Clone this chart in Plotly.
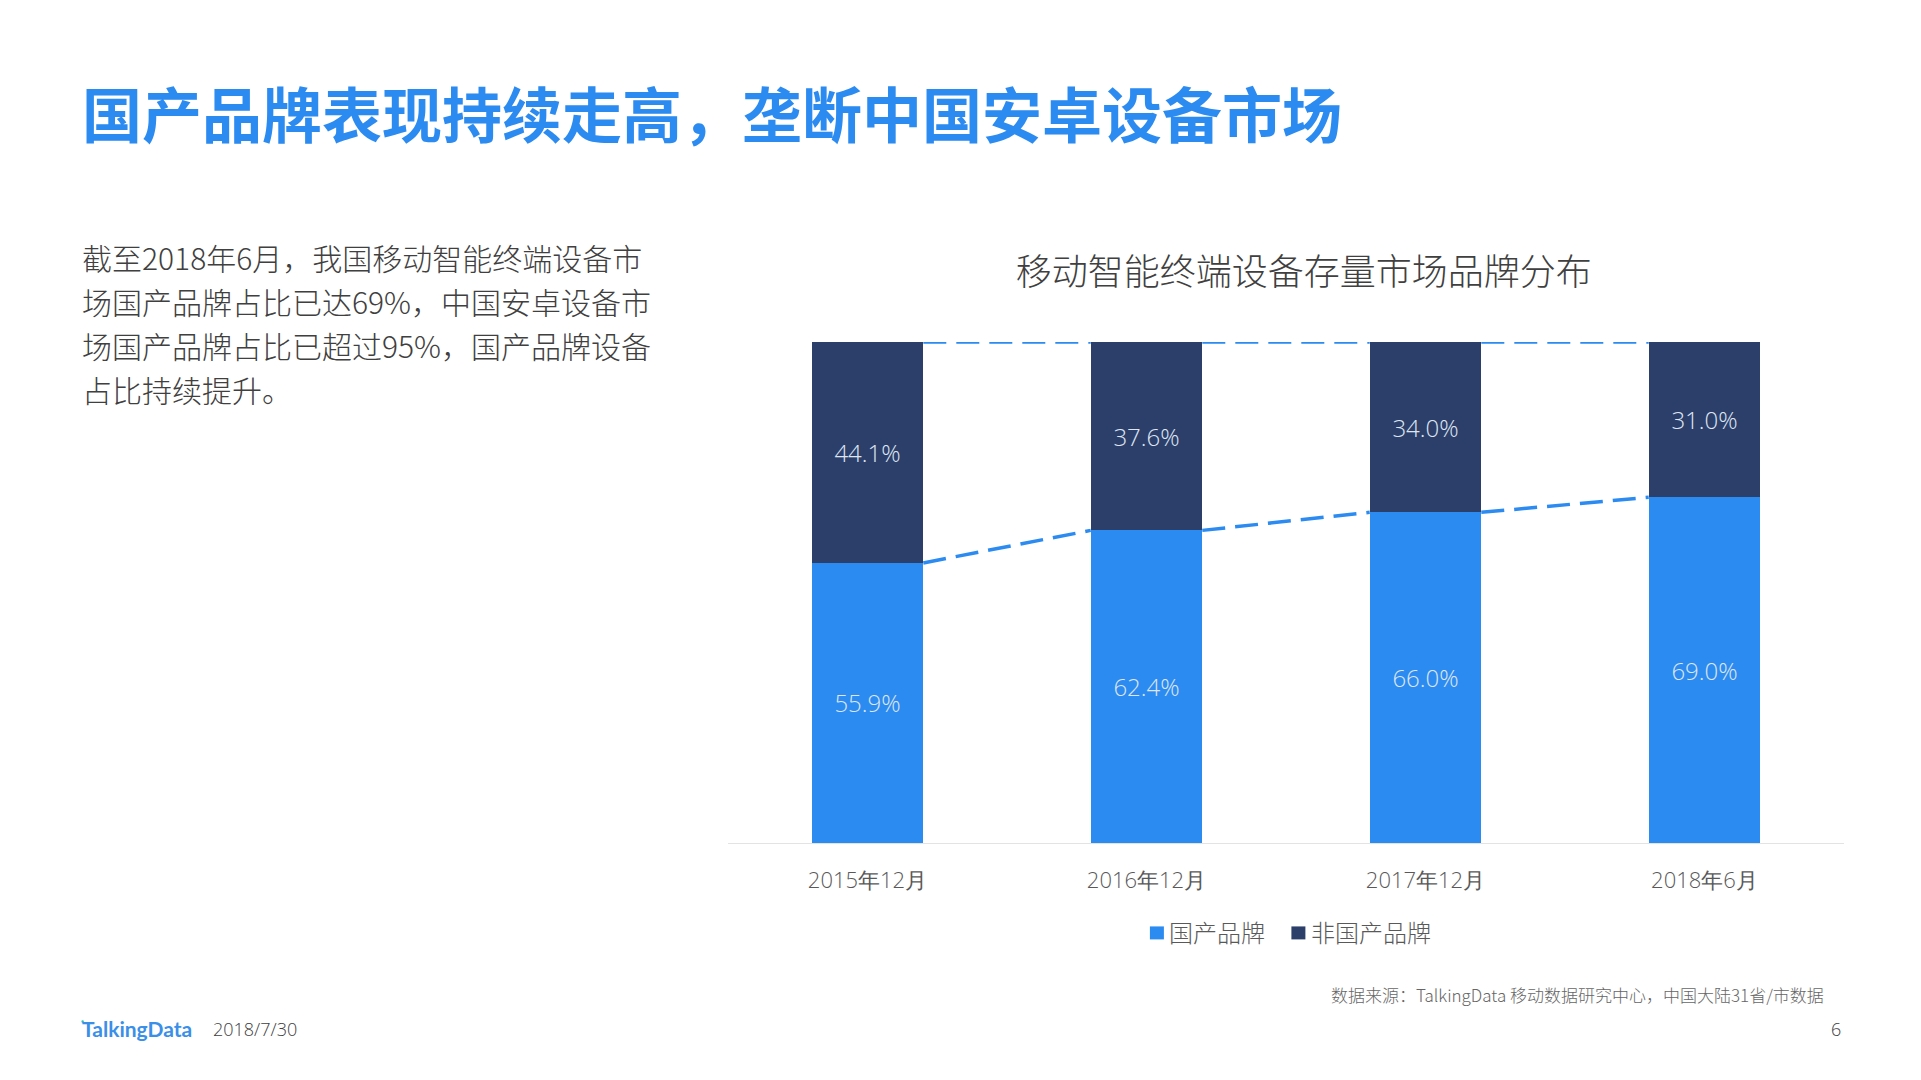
import plotly.graph_objects as go

# values
periods = ["2015年12月", "2016年12月", "2017年12月", "2018年6月"]
domestic = [55.9, 62.4, 66.0, 69.0]
foreign = [44.1, 37.6, 34.0, 31.0]
series_names = ["国产品牌", "非国产品牌"]

main_title = "国产品牌表现持续走高，垄断中国安卓设备市场"
chart_title = "移动智能终端设备存量市场品牌分布"
body_lines = [
    "截至2018年6月，我国移动智能终端设备市",
    "场国产品牌占比已达69%，中国安卓设备市",
    "场国产品牌占比已超过95%，国产品牌设备",
    "占比持续提升。",
]
source_text = "数据来源：TalkingData 移动数据研究中心，中国大陆31省/市数据"
logo_text = "TalkingData"
date_text = "2018/7/30"
page_text = "6"

W, H = 1921, 1080
LEFT, RIGHT, TOP, BOTTOM = 727.6, 1843.6, 342, 843.5
BAR_W = 0.4
BLUE = "#2c8bf0"
NAVY = "#2c3f6b"
CJK = "Noto Sans CJK SC Light, Noto Sans CJK SC"
CJK_BOLD = "Noto Sans CJK SC"
LATIN = "Open Sans"


def px(x):
    return (x - LEFT) / (RIGHT - LEFT)


def py(y):
    return (BOTTOM - y) / (BOTTOM - TOP)


def label(text, x, y, size, color, anchor="left", family=CJK, weight=300):
    return dict(
        text=text, x=px(x), y=py(y), xref="paper", yref="paper",
        xanchor=anchor, yanchor="middle", showarrow=False,
        font=dict(family=family, size=size, color=color, weight=weight),
    )


def swatch(x0, x1, color):
    return dict(
        type="rect", xref="paper", yref="paper", fillcolor=color, line_width=0,
        x0=px(x0), x1=px(x1), y0=py(940), y1=py(927),
    )


xs = list(range(len(periods)))

fig = go.Figure()

fig.add_trace(go.Bar(
    x=xs, y=domestic, name=series_names[0], width=BAR_W,
    marker=dict(color=BLUE, line_width=0),
    text=[f"{v:.1f}%" for v in domestic],
))
fig.add_trace(go.Bar(
    x=xs, y=foreign, name=series_names[1], width=BAR_W,
    marker=dict(color=NAVY, line_width=0),
    text=[f"{v:.1f}%" for v in foreign],
))
fig.update_traces(
    textposition="inside", insidetextanchor="middle", textangle=0,
    insidetextfont=dict(family=LATIN, size=24, color="#dfe6f2", weight=300),
)

# dashed connectors between neighbouring bars
for tops in (domestic, [d + f for d, f in zip(domestic, foreign)]):
    line_x, line_y = [], []
    for i in xs[:-1]:
        line_x += [i + BAR_W / 2, i + 1 - BAR_W / 2, None]
        line_y += [tops[i], tops[i + 1], None]
    fig.add_trace(go.Scatter(
        x=line_x, y=line_y, mode="lines",
        line=dict(color=BLUE, width=3.5, dash="23px 10px"),
    ))

annotations = [label(main_title, 80, 111, 60, BLUE, family=CJK_BOLD, weight=700)]
for line, y in zip(body_lines, [257, 301, 345, 389]):
    annotations.append(label(line, 79.6, y, 30, "#404040"))
annotations += [
    label(series_names[0], 1167, 932, 24, "#595959"),
    label(series_names[1], 1308.5, 932, 24, "#595959"),
    label(source_text, 1826, 995.5, 17, "#666666", anchor="right"),
    label(logo_text, 80, 1029.5, 21, "#3a8fe8", family="Lato", weight=700),
    label(date_text, 210.5, 1029.5, 18, "#404040", family=LATIN),
    label(page_text, 1843, 1029.5, 18, "#404040", anchor="right", family=LATIN),
]

fig.update_layout(
    width=W, height=H, autosize=False,
    margin=dict(l=LEFT, r=W - RIGHT, t=TOP, b=H - BOTTOM, pad=0),
    paper_bgcolor="white", plot_bgcolor="white",
    barmode="stack", showlegend=False,
    title=dict(
        text=chart_title, x=1303.7 / W, y=1 - 272 / H, xanchor="center", yanchor="middle",
        font=dict(family=CJK, size=36, color="#404040", weight=300),
    ),
    xaxis=dict(
        range=[-0.5, 3.5], tickmode="array", tickvals=xs, ticktext=periods,
        showgrid=False, zeroline=False, showline=True, linecolor="#e3e3e3", linewidth=1,
        ticks="outside", ticklen=18, tickcolor="rgba(0,0,0,0)",
        tickfont=dict(family=LATIN, size=22, color="#595959", weight=300),
    ),
    yaxis=dict(range=[0, 100], visible=False),
    annotations=annotations,
    shapes=[
        swatch(1149.5, 1163.5, BLUE),
        swatch(1291, 1305, NAVY),
        dict(
            type="circle", xref="paper", yref="paper", fillcolor="#27c4b4", line_width=0,
            x0=px(81), x1=px(83.5), y0=py(1021), y1=py(1023.5),
        ),
    ],
)

fig.write_html(
    "out.html",
    config={"displayModeBar": False},
    post_script="document.body.style.margin = '0';",
)
